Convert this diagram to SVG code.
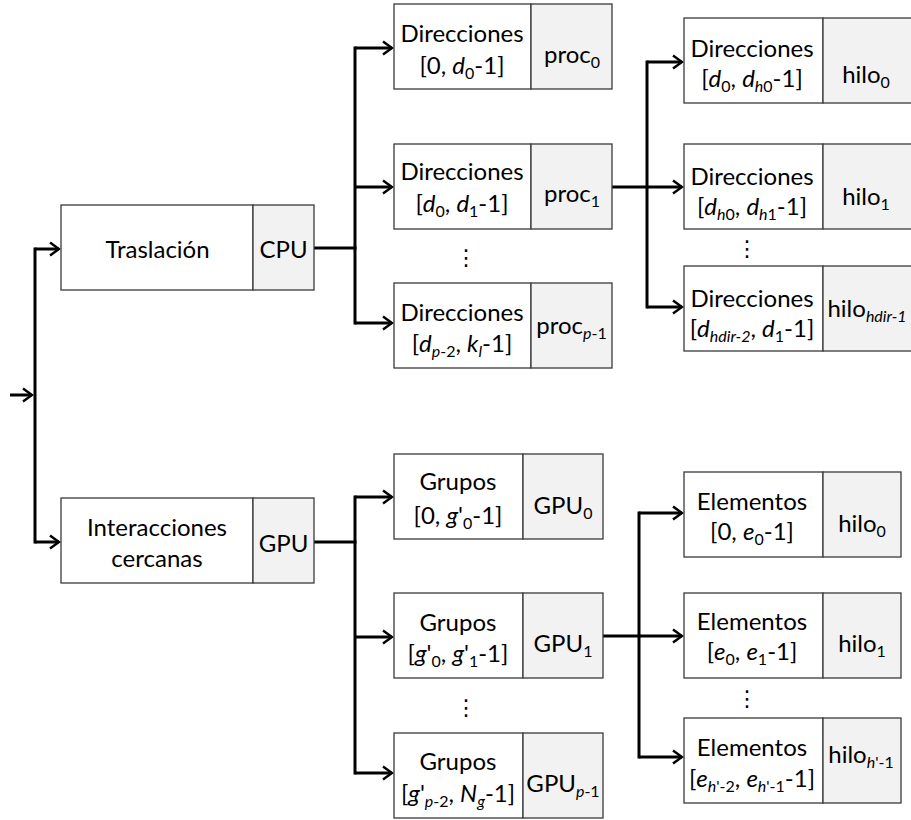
<svg xmlns="http://www.w3.org/2000/svg" width="911" height="820" viewBox="0 0 911 820">
<defs>
<style>
.w{fill:#fff;stroke:#3a3a3a;stroke-width:1.3}
.g{fill:#f2f2f2;stroke:#3a3a3a;stroke-width:1.3}
text{font-family:Lato,Carlito,"Liberation Sans",sans-serif;font-size:24px;fill:#000;text-anchor:middle}
.i{font-style:italic}
.s{font-size:16px}
.dots{font-family:"DejaVu Sans",sans-serif;font-size:22px}
.c{fill:none;stroke:#000;stroke-width:3;stroke-linecap:square}
.a{fill:none;stroke:#000;stroke-width:3;marker-end:url(#ar)}
</style>
<marker id="ar" markerUnits="userSpaceOnUse" viewBox="-12 -9 14 18" refX="0" refY="0" markerWidth="14" markerHeight="18" orient="auto">
<path d="M-9,-6.5 L0,0 L-9,6.5" fill="none" stroke="#000" stroke-width="2.5"/>
</marker>
</defs>

<g id="connectors">
<path class="a" d="M10,395 H32"/>
<path class="c" d="M35,249 V542"/>
<path class="a" d="M35,249 H59"/>
<path class="a" d="M35,542 H59"/>
<path class="c" d="M314,248 H355"/>
<path class="c" d="M355,48 V323"/>
<path class="a" d="M355,48 H392"/>
<path class="a" d="M355,187 H392"/>
<path class="a" d="M355,323 H392"/>
<path class="c" d="M612,187 H647"/>
<path class="c" d="M647,62 V307"/>
<path class="a" d="M647,62 H682"/>
<path class="a" d="M647,187 H682"/>
<path class="a" d="M647,307 H682"/>
<path class="c" d="M314,542 H355"/>
<path class="c" d="M355,497 V773"/>
<path class="a" d="M355,497 H392"/>
<path class="a" d="M355,637 H392"/>
<path class="a" d="M355,773 H392"/>
<path class="c" d="M603,636 H639"/>
<path class="c" d="M639,513 V757"/>
<path class="a" d="M639,513 H682"/>
<path class="a" d="M639,636 H682"/>
<path class="a" d="M639,757 H682"/>
</g>

<g id="traslacion">
<rect class="w" x="61" y="205" width="192" height="85"/>
<rect class="g" x="253" y="205" width="61" height="85"/>
<text x="157.5" y="258">Traslación</text>
<text x="283.5" y="258">CPU</text>
</g>

<g id="interacciones">
<rect class="w" x="61" y="498" width="192" height="85"/>
<rect class="g" x="253" y="498" width="61" height="85"/>
<text x="157" y="536">Interacciones</text>
<text x="157" y="567">cercanas</text>
<text x="283.5" y="552">GPU</text>
</g>

<g id="proc0">
<rect class="w" x="394" y="4" width="137" height="85"/>
<rect class="g" x="531" y="4" width="81" height="85"/>
<text x="462" y="42">Direcciones</text>
<text x="462" y="74">[0, <tspan class="i">d</tspan><tspan class="s" dy="5">0</tspan><tspan dy="-5">-1]</tspan></text>
<text x="572" y="63">proc<tspan class="s" dy="5">0</tspan></text>
</g>

<g id="proc1">
<rect class="w" x="394" y="144" width="137" height="85"/>
<rect class="g" x="531" y="144" width="81" height="85"/>
<text x="462" y="180">Direcciones</text>
<text x="462" y="212">[<tspan class="i">d</tspan><tspan class="s" dy="5">0</tspan><tspan dy="-5">, </tspan><tspan class="i">d</tspan><tspan class="s" dy="5">1</tspan><tspan dy="-5">-1]</tspan></text>
<text x="572" y="202">proc<tspan class="s" dy="5">1</tspan></text>
</g>

<text class="dots" x="466" y="265">⋮</text>

<g id="procp">
<rect class="w" x="394" y="283" width="137" height="85"/>
<rect class="g" x="531" y="283" width="81" height="85"/>
<text x="462" y="321">Direcciones</text>
<text x="462" y="352">[<tspan class="i">d</tspan><tspan class="s i" dy="5">p</tspan><tspan class="s">-2</tspan><tspan dy="-5">, </tspan><tspan class="i">k</tspan><tspan class="s i" dy="5">l</tspan><tspan dy="-5">-1]</tspan></text>
<text x="571.5" y="334">proc<tspan class="s i" dy="5">p</tspan><tspan class="s">-1</tspan></text>
</g>

<g id="hilo0">
<rect class="w" x="684" y="18" width="139" height="85"/>
<rect class="g" x="823" y="18" width="100" height="85"/>
<text x="752" y="57">Direcciones</text>
<text x="752" y="87">[<tspan class="i">d</tspan><tspan class="s" dy="5">0</tspan><tspan dy="-5">, </tspan><tspan class="i">d</tspan><tspan class="s i" dy="5">h</tspan><tspan class="s">0</tspan><tspan dy="-5">-1]</tspan></text>
<text x="866" y="83">hilo<tspan class="s" dy="5">0</tspan></text>
</g>

<g id="hilo1">
<rect class="w" x="684" y="144" width="139" height="85"/>
<rect class="g" x="823" y="144" width="100" height="85"/>
<text x="752" y="185">Direcciones</text>
<text x="752" y="215">[<tspan class="i">d</tspan><tspan class="s i" dy="5">h</tspan><tspan class="s">0</tspan><tspan dy="-5">, </tspan><tspan class="i">d</tspan><tspan class="s i" dy="5">h</tspan><tspan class="s">1</tspan><tspan dy="-5">-1]</tspan></text>
<text x="866" y="205">hilo<tspan class="s" dy="5">1</tspan></text>
</g>

<text class="dots" x="747" y="256">⋮</text>

<g id="hilon">
<rect class="w" x="684" y="266" width="139" height="85"/>
<rect class="g" x="823" y="266" width="100" height="85"/>
<text x="752" y="307">Direcciones</text>
<text x="752" y="337">[<tspan class="i">d</tspan><tspan class="s i" dy="5">hdir-2</tspan><tspan dy="-5">, </tspan><tspan class="i">d</tspan><tspan class="s" dy="5">1</tspan><tspan dy="-5">-1]</tspan></text>
<text x="867" y="317">hilo<tspan class="s i" dy="5">hdir-1</tspan></text>
</g>

<g id="gpu0">
<rect class="w" x="394" y="454" width="129" height="85"/>
<rect class="g" x="523" y="454" width="80" height="85"/>
<text x="458" y="490">Grupos</text>
<text x="458" y="524">[0, <tspan class="i">g</tspan>'<tspan class="s" dy="5">0</tspan><tspan dy="-5">-1]</tspan></text>
<text x="563" y="514">GPU<tspan class="s" dy="5">0</tspan></text>
</g>

<g id="gpu1">
<rect class="w" x="394" y="593" width="129" height="85"/>
<rect class="g" x="523" y="593" width="80" height="85"/>
<text x="458" y="631">Grupos</text>
<text x="458" y="662">[<tspan class="i">g</tspan>'<tspan class="s" dy="5">0</tspan><tspan dy="-5">, </tspan><tspan class="i">g</tspan>'<tspan class="s" dy="5">1</tspan><tspan dy="-5">-1]</tspan></text>
<text x="563" y="652">GPU<tspan class="s" dy="5">1</tspan></text>
</g>

<text class="dots" x="466" y="715">⋮</text>

<g id="gpup">
<rect class="w" x="394" y="733" width="129" height="85"/>
<rect class="g" x="523" y="733" width="80" height="85"/>
<text x="458" y="770">Grupos</text>
<text x="458" y="802">[<tspan class="i">g</tspan>'<tspan class="s i" dy="5">p</tspan><tspan class="s">-2</tspan><tspan dy="-5">, </tspan><tspan class="i">N</tspan><tspan class="s i" dy="5">g</tspan><tspan dy="-5">-1]</tspan></text>
<text x="563" y="792">GPU<tspan class="s i" dy="5">p</tspan><tspan class="s">-1</tspan></text>
</g>

<g id="el0">
<rect class="w" x="684" y="472" width="139" height="85"/>
<rect class="g" x="823" y="472" width="78" height="85"/>
<text x="752" y="510">Elementos</text>
<text x="752" y="540">[0, <tspan class="i">e</tspan><tspan class="s" dy="5">0</tspan><tspan dy="-5">-1]</tspan></text>
<text x="862" y="532">hilo<tspan class="s" dy="5">0</tspan></text>
</g>

<g id="el1">
<rect class="w" x="684" y="593" width="139" height="85"/>
<rect class="g" x="823" y="593" width="78" height="85"/>
<text x="752" y="630">Elementos</text>
<text x="752" y="660">[<tspan class="i">e</tspan><tspan class="s" dy="5">0</tspan><tspan dy="-5">, </tspan><tspan class="i">e</tspan><tspan class="s" dy="5">1</tspan><tspan dy="-5">-1]</tspan></text>
<text x="862" y="652">hilo<tspan class="s" dy="5">1</tspan></text>
</g>

<text class="dots" x="747" y="706">⋮</text>

<g id="el2">
<rect class="w" x="684" y="718" width="139" height="85"/>
<rect class="g" x="823" y="718" width="78" height="85"/>
<text x="752" y="756">Elementos</text>
<text x="752" y="787">[<tspan class="i">e</tspan><tspan class="s i" dy="5">h</tspan><tspan class="s">'-2</tspan><tspan dy="-5">, </tspan><tspan class="i">e</tspan><tspan class="s i" dy="5">h</tspan><tspan class="s">'-1</tspan><tspan dy="-5">-1]</tspan></text>
<text x="861" y="763">hilo<tspan class="s i" dy="5">h</tspan><tspan class="s">'-1</tspan></text>
</g>
</svg>
